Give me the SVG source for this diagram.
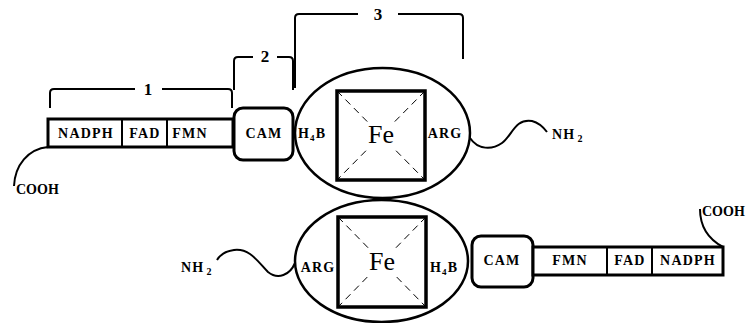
<svg xmlns="http://www.w3.org/2000/svg" width="748" height="323" viewBox="0 0 748 323">
<style>
.lbl{font-family:"Liberation Serif","Times New Roman","DejaVu Serif",serif;font-weight:bold;font-size:14px;fill:#000;letter-spacing:1.2px}
.end{letter-spacing:0}
.num{font-family:"Liberation Serif","Times New Roman","DejaVu Serif",serif;font-weight:bold;font-size:17px;fill:#000}
.fe{font-family:"Liberation Serif","Times New Roman","DejaVu Serif",serif;font-size:26px;fill:#000}
.bar{fill:#fff;stroke:#000;stroke-width:3}
.div{stroke:#000;stroke-width:2}
.cam{fill:#fff;stroke:#000;stroke-width:3}
.ell{fill:#fff;stroke:#000;stroke-width:2.5}
.sq{fill:none;stroke:#000;stroke-width:3.5}
.dash{stroke:#000;stroke-width:1;stroke-dasharray:7,5}
.ln{fill:none;stroke:#000;stroke-width:2}
</style>
<rect width="748" height="323" fill="#fff"/>
<g id="connectors">
<path class="ln" d="M50,108 V93 Q50,89 54,89 H135 M162,89 H228 Q232,89 232,93 V108"/>
<path class="ln" d="M234,90 V61 Q234,57 238,57 H253 M277,57 H289 Q293,57 293,61 V90"/>
<path class="ln" d="M295,88 V18 Q295,14 299,14 H358 M398,14 H459 Q463,14 463,18 V59"/>
<path class="ln" d="M48,147 C28,149 15,165 14,186"/>
<path class="ln" d="M470,138 C478,150 492,150 502,143 C512,136 515,118 532,121 C540,123 544,128 547,132"/>
<path class="ln" d="M723,247 C710,240 700,228 700,209"/>
<path class="ln" d="M295,263 C290,275 278,280 268,272 C258,262 250,248 234,250 C226,251 220,255 217,260"/>
</g>
<g id="top-reductase">
<rect class="bar" x="48" y="119" width="185" height="28"/>
<line class="div" x1="122" y1="119" x2="122" y2="147"/>
<line class="div" x1="167" y1="119" x2="167" y2="147"/>
<text class="lbl" x="86" y="138" text-anchor="middle">NADPH</text>
<text class="lbl" x="145" y="138" text-anchor="middle">FAD</text>
<text class="lbl" x="190" y="138" text-anchor="middle">FMN</text>
</g>
<g id="top-cam">
<rect class="cam" x="234" y="108" width="59" height="52" rx="9"/>
<text class="lbl" x="264" y="138" text-anchor="middle">CAM</text>
</g>
<g id="top-oxygenase">
<ellipse class="ell" cx="382.5" cy="133" rx="87.5" ry="65"/>
<line class="dash" x1="337" y1="91" x2="425" y2="180"/>
<line class="dash" x1="425" y1="91" x2="337" y2="180"/>
<rect class="sq" x="337" y="91" width="88" height="89"/>
<rect x="364" y="122" width="34" height="26" fill="#fff"/>
<text class="fe" x="381" y="143" text-anchor="middle">Fe</text>
<text class="lbl" x="298" y="138">H<tspan font-size="9" dy="3">4</tspan><tspan dy="-3">B</tspan></text>
<text class="lbl" x="445" y="138" text-anchor="middle">ARG</text>
</g>
<g id="labels">
<text class="num" x="148" y="95" text-anchor="middle">1</text>
<text class="num" x="265" y="62" text-anchor="middle">2</text>
<text class="num" x="378" y="20" text-anchor="middle">3</text>
<text class="lbl end" x="16" y="194">COOH</text>
<text class="lbl" x="552" y="139">NH<tspan font-size="10" dy="3" dx="2">2</tspan></text>
<text class="lbl end" x="702" y="216">COOH</text>
<text class="lbl" x="181" y="272">NH<tspan font-size="10" dy="3" dx="2">2</tspan></text>
</g>
<g id="bottom-oxygenase">
<ellipse class="ell" cx="381.5" cy="261" rx="86.5" ry="61"/>
<line class="dash" x1="338" y1="217" x2="426" y2="307"/>
<line class="dash" x1="426" y1="217" x2="338" y2="307"/>
<rect class="sq" x="338" y="217" width="88" height="90"/>
<rect x="365" y="248" width="34" height="26" fill="#fff"/>
<text class="fe" x="382" y="270" text-anchor="middle">Fe</text>
<text class="lbl" x="318" y="272" text-anchor="middle">ARG</text>
<text class="lbl" x="430" y="272">H<tspan font-size="9" dy="3">4</tspan><tspan dy="-3">B</tspan></text>
</g>
<g id="bottom-cam">
<rect class="cam" x="472" y="236" width="61" height="51" rx="9"/>
<text class="lbl" x="502" y="265" text-anchor="middle">CAM</text>
</g>
<g id="bottom-reductase">
<rect class="bar" x="533" y="247" width="190" height="28"/>
<line class="div" x1="607" y1="247" x2="607" y2="275"/>
<line class="div" x1="652" y1="247" x2="652" y2="275"/>
<text class="lbl" x="570" y="265" text-anchor="middle">FMN</text>
<text class="lbl" x="630" y="265" text-anchor="middle">FAD</text>
<text class="lbl" x="688" y="265" text-anchor="middle">NADPH</text>
</g>
</svg>
